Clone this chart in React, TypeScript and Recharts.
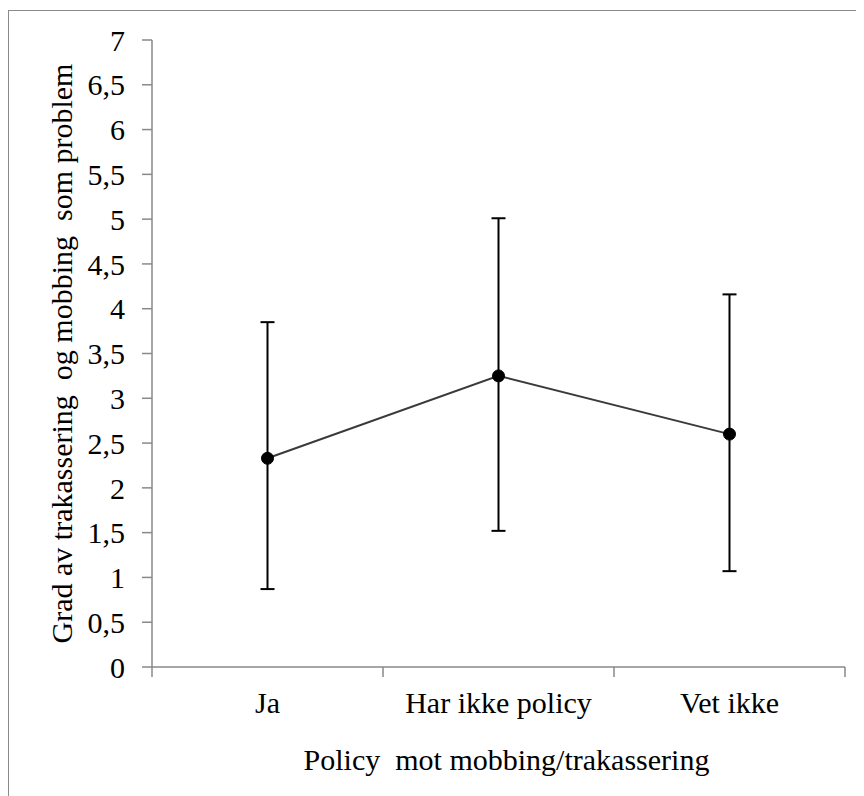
import { LineChart, Line, XAxis, YAxis, ErrorBar, Label } from "recharts";

const categories = ["Ja", "Har ikke policy", "Vet ikke"];
const means = [2.33, 3.25, 2.6];
const lower = [0.87, 1.52, 1.07];
const upper = [3.85, 5.01, 4.16];
const yTicks = [0, 0.5, 1, 1.5, 2, 2.5, 3, 3.5, 4, 4.5, 5, 5.5, 6, 6.5, 7];

const FONT = "'Liberation Serif', 'Times New Roman', serif";
const AXIS = "#898989";
const W = 855;
const H = 785;
const M = { top: 29, right: 19, left: 0, bottom: 0 };
const Y_W = 143;
const PLOT_W = W - M.left - M.right - Y_W;
const HALF_BAND = PLOT_W / categories.length / 2;

const data = categories.map((name, i) => ({
  name,
  mean: means[i],
  err: [means[i] - lower[i], upper[i] - means[i]],
}));

const fmt = (v: number) => String(v).replace(".", ",");

function CatTick(props: any) {
  const { x, y, payload, index } = props;
  const axisY = y - 25;
  const last = index === categories.length - 1;
  return (
    <g>
      <line x1={x - HALF_BAND} x2={x - HALF_BAND} y1={axisY} y2={axisY + 10} stroke={AXIS} strokeWidth={1.5} />
      {last && (
        <line x1={x + HALF_BAND} x2={x + HALF_BAND} y1={axisY} y2={axisY + 10} stroke={AXIS} strokeWidth={1.5} />
      )}
      <text x={x} y={y} dy="0.71em" textAnchor="middle" fontFamily={FONT} fontSize={30} fill="#000">
        {payload.value}
      </text>
    </g>
  );
}

export default function App() {
  return (
    <div
      style={{
        marginTop: 2,
        width: 856,
        height: 786,
        borderLeft: "1px solid #8a8a8a",
        borderTop: "1px solid #8a8a8a",
      }}
    >
      <LineChart width={W} height={H} data={data} margin={M}>
        <XAxis
          dataKey="name"
          padding={{ left: HALF_BAND, right: HALF_BAND }}
          height={H - 656}
          tickSize={10}
          tickMargin={15}
          tickLine={false}
          axisLine={{ stroke: AXIS, strokeWidth: 1.5 }}
          tick={<CatTick />}
          interval={0}
        >
          <Label
            content={(p: any) => {
              const vb = p.viewBox;
              return (
                <text
                  x={vb.x + vb.width / 2 + 8}
                  y={759}
                  textAnchor="middle"
                  fontFamily={FONT}
                  fontSize={30}
                  fill="#000"
                  style={{ whiteSpace: "pre" }}
                >
                  Policy  mot mobbing/trakassering
                </text>
              );
            }}
          />
        </XAxis>
        <YAxis
          width={Y_W}
          domain={[0, 7]}
          ticks={yTicks}
          interval={0}
          tickFormatter={fmt}
          tickSize={10}
          tickMargin={17}
          tick={{ fontFamily: FONT, fontSize: 30, fill: "#000" }}
          tickLine={{ stroke: AXIS, strokeWidth: 1.5 }}
          axisLine={{ stroke: AXIS, strokeWidth: 1.5 }}
        >
          <Label
            content={(p: any) => {
              const vb = p.viewBox;
              const cy = vb.y + vb.height / 2;
              return (
                <text
                  x={63}
                  y={cy}
                  transform={`rotate(-90, 63, ${cy})`}
                  textAnchor="middle"
                  fontFamily={FONT}
                  fontSize={30}
                  fill="#000"
                  style={{ whiteSpace: "pre" }}
                >
                  Grad av trakassering  og mobbing  som problem
                </text>
              );
            }}
          />
        </YAxis>
        <Line
          dataKey="mean"
          stroke="#3a3a3a"
          strokeWidth={2}
          isAnimationActive={false}
          dot={{ r: 6, fill: "#000", stroke: "#000", strokeWidth: 1 }}
          activeDot={false}
        >
          <ErrorBar dataKey="err" direction="y" width={7} stroke="#000" strokeWidth={2} />
        </Line>
      </LineChart>
    </div>
  );
}
